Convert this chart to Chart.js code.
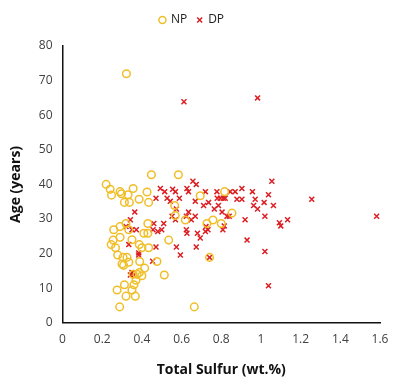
<!DOCTYPE html>
<html>
<head>
<meta charset="utf-8">
<script src="https://cdn.jsdelivr.net/npm/chart.js@4/dist/chart.umd.min.js"></script>
<style>
  html, body { margin: 0; padding: 0; background: #fff; }
  #wrap { width: 400px; height: 384px; }
</style>
</head>
<body>
<div id="wrap"><canvas id="sulfurChart" width="400" height="384"></canvas></div>
<script>
// NP samples: total sulfur (wt.%) and age (years)
const npSulfur = [0.322, 0.448, 0.584, 0.22, 0.24, 0.247, 0.29, 0.297, 0.33, 0.356,
  0.312, 0.337, 0.386, 0.426, 0.434, 0.258, 0.29, 0.32, 0.334, 0.29,
  0.255, 0.245, 0.267, 0.278, 0.305, 0.30, 0.308, 0.325, 0.334, 0.35,
  0.387, 0.40, 0.434, 0.389, 0.414, 0.387, 0.40, 0.37, 0.36, 0.35,
  0.312, 0.275, 0.32, 0.367, 0.288, 0.664, 0.513, 0.476, 0.535, 0.43,
  0.43, 0.41, 0.565, 0.568, 0.619, 0.694, 0.728, 0.758, 0.80, 0.817,
  0.741, 0.854, 0.376, 0.356];
const npAge = [72, 42.8, 42.8, 40, 38.6, 36.9, 37.9, 37.3, 37, 38.8,
  34.8, 34.8, 35.7, 37.8, 34.8, 26.9, 27.8, 28.7, 26.9, 24.7,
  23.9, 22.6, 21.7, 19.6, 18.9, 17, 16.6, 18.9, 17.5, 24,
  22.6, 21.7, 21.7, 17.7, 15.8, 14.5, 13.6, 12.3, 11, 9.5,
  11, 9.5, 7.7, 7.7, 4.6, 4.6, 13.8, 17.7, 23.9, 28.7,
  25.9, 25.9, 33.9, 31, 29.7, 36.7, 28.7, 29.7, 28.7, 37.9,
  18.9, 31.7, 14, 14];

// DP samples
const dpSulfur = [0.612, 0.983, 1.055, 0.657, 0.674, 0.493, 0.515, 0.555, 0.569, 0.627,
  0.635, 0.72, 0.778, 0.845, 0.87, 0.904, 0.957, 1.038, 0.78, 0.795,
  0.81, 0.82, 0.471, 0.527, 0.543, 0.589, 0.669, 0.879, 0.904, 0.971,
  1.256, 1.016, 0.963, 0.983, 1.063, 0.711, 0.736, 0.765, 0.786, 0.574,
  0.635, 0.624, 0.649, 0.669, 0.552, 0.569, 0.804, 0.829, 0.84, 1.02,
  1.583, 0.92, 1.093, 1.10, 1.134, 0.815, 0.808, 0.364, 0.342, 0.32,
  0.35, 0.372, 0.46, 0.456, 0.51, 0.50, 0.48, 0.624, 0.627, 0.68,
  0.694, 0.723, 0.733, 0.72, 0.93, 1.02, 1.038, 0.334, 0.471, 0.574,
  0.594, 0.674, 0.384, 0.384, 0.454, 0.741, 0.342, 0.359, 0.35];
const dpAge = [63.9, 65, 40.9, 40.9, 40, 38.8, 37.9, 38.6, 37.9, 38.8,
  37.9, 37.9, 37.9, 37.9, 37.9, 38.8, 37.9, 37, 36, 36,
  36, 36, 36, 36, 35.1, 36, 35.1, 35.7, 35.7, 35.7,
  35.7, 34.8, 33.9, 32.9, 33.9, 33.9, 34.8, 32.9, 33.9, 32.9,
  32, 30.8, 29.8, 30.8, 30.8, 29.8, 32, 30.8, 30.8, 30.8,
  30.8, 29.8, 28.9, 28, 29.8, 28, 26.9, 32, 29.8, 27.8,
  26.9, 26.9, 28.7, 26.9, 28.7, 26.9, 26.4, 26.9, 25.9, 25.9,
  24.5, 27.8, 26.9, 26.4, 23.9, 20.6, 10.7, 22.6, 21.9, 21.9,
  19.6, 21.9, 19.6, 20.2, 17.8, 18.9, 13.8, 13.8, 14.5];

const xTicks = [0, 0.2, 0.4, 0.6, 0.8, 1, 1.2, 1.4, 1.6];
const yTicks = [0, 10, 20, 30, 40, 50, 60, 70, 80];

function toPoints(xs, ys) {
    return xs.map((x, i) => ({ x: x, y: ys[i] }));
}

// extra gap under the legend
const legendGap = {
    id: 'legendGap',
    beforeInit(chart) {
        const origFit = chart.legend.fit;
        chart.legend.fit = function () {
            origFit.call(this);
            this.height += 10;
        };
    }
};

Chart.defaults.font.family = "'Open Sans', 'Liberation Sans', sans-serif";
Chart.defaults.color = '#404040';

let ctx = document.getElementById('sulfurChart').getContext('2d');
let sulfurChart = new Chart(ctx, {
    type: 'scatter',
    data: {
        datasets: [{
            label: 'NP',
            data: toPoints(npSulfur, npAge),
            pointStyle: 'circle',
            pointRadius: 3.8,
            backgroundColor: 'rgba(0,0,0,0)',
            borderColor: 'rgb(240, 190, 40)',
            borderWidth: 1.5
        }, {
            label: 'DP',
            data: toPoints(dpSulfur, dpAge),
            pointStyle: 'crossRot',
            pointRadius: 3.5,
            backgroundColor: 'rgb(220, 30, 35)',
            borderColor: 'rgb(220, 30, 35)',
            borderWidth: 1.5
        }]
    },
    plugins: [legendGap],
    options: {
        responsive: false,
        animation: false,
        layout: { padding: { top: 4, right: 20, left: 4, bottom: 2 } },
        plugins: {
            legend: {
                position: 'top',
                labels: {
                    usePointStyle: true,
                    boxWidth: 5,
                    boxHeight: 5,
                    padding: 10,
                    font: { size: 12 },
                    color: '#222'
                }
            },
            tooltip: { enabled: false }
        },
        scales: {
            x: {
                type: 'linear',
                min: 0,
                max: 1.6,
                afterBuildTicks: scale => { scale.ticks = xTicks.map(v => ({ value: v })); },
                ticks: {
                    padding: 10,
                    font: { size: 12 },
                    callback: v => String(v)
                },
                grid: { display: false, drawTicks: false },
                border: { display: true, color: '#111', width: 1.5 },
                title: {
                    display: true,
                    text: 'Total Sulfur (wt.%)',
                    font: { size: 14, weight: 'bold' },
                    color: '#111',
                    padding: { top: 4 }
                }
            },
            y: {
                type: 'linear',
                min: 0,
                max: 80,
                afterBuildTicks: scale => { scale.ticks = yTicks.map(v => ({ value: v })); },
                ticks: {
                    padding: 10,
                    font: { size: 12 },
                    callback: v => String(v)
                },
                grid: { display: false, drawTicks: false },
                border: { display: true, color: '#111', width: 1.5 },
                title: {
                    display: true,
                    text: 'Age (years)',
                    font: { size: 14, weight: 'bold' },
                    color: '#111',
                    padding: { bottom: 4 }
                }
            }
        }
    }
});
</script>
</body>
</html>
